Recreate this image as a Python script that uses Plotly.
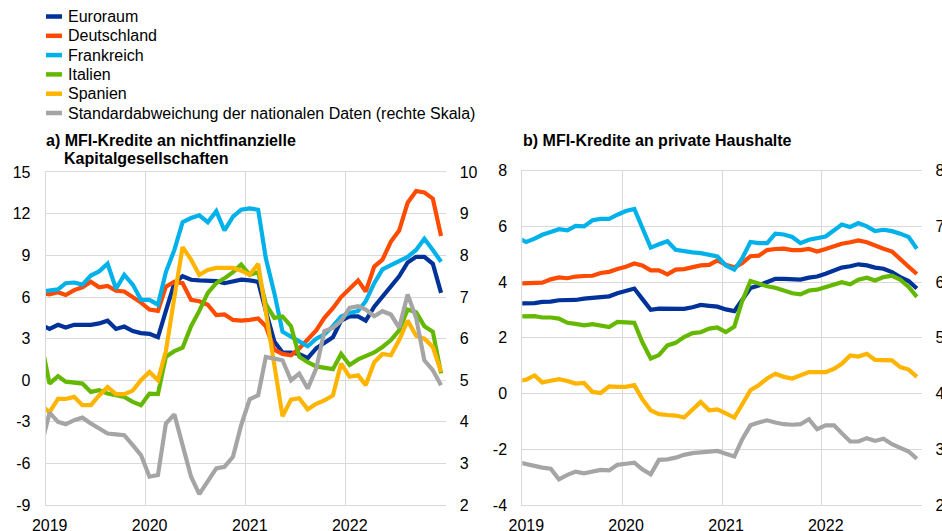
import pandas as pd
import plotly.graph_objects as go

W, H = 942, 531

# Monthly observations (mid-month), Dec 2018 - Dec 2022; axis starts Jan 2019
months = [d + pd.Timedelta(days=14) for d in pd.date_range("2018-12-01", "2022-12-01", freq="MS")]

names = ["Euroraum", "Deutschland", "Frankreich", "Italien", "Spanien",
         "Standardabweichung der nationalen Daten (rechte Skala)"]
colors = ["#003299", "#ff4b00", "#00b1ea", "#65b800", "#ffb400", "#a5a5a5"]

# a) MFI loans to non-financial corporations (annual % change)
nfc_euroraum = [4.0, 3.7, 4.0, 3.8, 4.0, 4.0, 4.0, 4.1, 4.3, 3.7, 3.87, 3.55, 3.4,
                3.35, 3.1, 5.0, 7.0, 7.5, 7.25, 7.2, 7.2, 7.15, 7.0, 7.1, 7.25,
                7.2, 7.1, 5.0, 2.8, 2.0, 2.0, 1.9, 1.6, 2.3, 2.7, 3.1, 4.3,
                4.6, 4.6, 4.3, 5.3, 6.0, 6.7, 7.5, 8.5, 8.9, 8.9, 8.4, 6.3]
nfc_deutschland = [6.3, 6.2, 6.35, 6.15, 6.5, 6.7, 7.1, 6.7, 6.8, 6.45, 6.4, 6.0, 5.6,
                   5.1, 5.0, 6.75, 7.1, 7.0, 5.8, 5.7, 5.45, 4.7, 4.75, 4.35, 4.3,
                   4.35, 4.45, 3.9, 2.2, 1.9, 1.8, 2.3, 2.9, 3.6, 4.5, 5.2, 6.0,
                   6.6, 7.2, 6.4, 8.2, 8.7, 10.0, 10.8, 12.8, 13.65, 13.55, 13.1, 10.4]
nfc_frankreich = [6.4, 6.5, 6.55, 7.0, 7.05, 6.9, 7.55, 7.85, 8.4, 6.6, 7.6, 6.9, 5.8,
                  5.8, 5.45, 7.8, 9.4, 11.4, 11.7, 11.9, 11.4, 12.2, 10.8, 11.8, 12.3,
                  12.4, 12.3, 8.8, 6.3, 3.5, 3.1, 2.8, 2.45, 3.0, 3.3, 3.9, 4.6,
                  4.85, 5.0, 5.7, 7.0, 8.0, 8.3, 8.6, 8.9, 9.4, 10.2, 9.4, 8.55]
nfc_italien = [2.8, -0.24, 0.3, -0.1, -0.17, -0.24, -0.84, -0.72, -0.96, -1.08, -1.2, -1.56, -1.8,
               -0.96, -1.0, 1.7, 2.1, 2.35, 3.9, 5.0, 6.3, 7.0, 7.35, 7.8, 8.35,
               7.6, 7.8, 5.5, 4.5, 4.6, 3.9, 1.7, 1.3, 1.0, 0.9, 0.8, 1.9,
               1.1, 1.5, 1.75, 2.0, 2.4, 2.9, 3.6, 5.1, 4.9, 3.9, 3.5, 0.5]
nfc_spanien = [-1.8, -2.3, -1.35, -1.35, -1.2, -1.8, -1.8, -1.1, -0.5, -1.0, -1.0, -0.75, 0.0,
               0.6, 0.0, 2.1, 6.0, 9.6, 8.7, 7.6, 7.95, 8.1, 8.1, 8.1, 7.9,
               7.6, 8.4, 5.0, 1.5, -2.6, -1.4, -1.3, -2.1, -1.7, -1.45, -1.1, 1.2,
               0.25, 0.35, -0.35, 1.3, 1.9, 1.8, 2.9, 4.3, 3.2, 3.0, 2.4, 0.6]
nfc_stdabw = [3.4, 4.22, 4.0, 3.94, 4.04, 4.1, 3.96, 3.84, 3.72, 3.7, 3.68, 3.44, 3.2,
              2.68, 2.72, 3.96, 4.18, 3.44, 2.68, 2.26, 2.56, 2.88, 2.92, 3.16, 3.92,
              4.54, 4.64, 5.56, 5.52, 5.48, 5.0, 5.16, 4.8, 5.28, 6.18, 6.26, 6.42,
              6.74, 6.78, 6.7, 6.54, 6.66, 6.58, 6.26, 7.06, 6.5, 5.48, 5.24, 4.88]

# b) MFI loans to households (annual % change)
hh_euroraum = [3.23, 3.23, 3.25, 3.29, 3.3, 3.35, 3.36, 3.36, 3.41, 3.43, 3.47, 3.49, 3.6,
               3.68, 3.77, 3.4, 3.01, 3.05, 3.05, 3.05, 3.04, 3.1, 3.18, 3.15, 3.12,
               3.02, 2.96, 3.35, 3.79, 3.88, 4.0, 4.12, 4.12, 4.12, 4.09, 4.16, 4.2,
               4.3, 4.42, 4.52, 4.57, 4.64, 4.6, 4.52, 4.48, 4.36, 4.18, 4.04, 3.77]
hh_deutschland = [3.95, 3.95, 3.96, 3.98, 4.1, 4.17, 4.14, 4.2, 4.22, 4.23, 4.33, 4.37, 4.47,
                  4.55, 4.67, 4.6, 4.42, 4.42, 4.28, 4.45, 4.47, 4.55, 4.6, 4.62, 4.78,
                  4.62, 4.53, 4.68, 4.93, 4.95, 5.15, 5.19, 5.2, 5.15, 5.15, 5.19, 5.1,
                  5.19, 5.3, 5.38, 5.43, 5.5, 5.43, 5.3, 5.2, 5.1, 4.85, 4.55, 4.29]
hh_frankreich = [5.6, 5.44, 5.56, 5.7, 5.8, 5.9, 5.86, 6.02, 6.0, 6.22, 6.27, 6.27, 6.42,
                 6.55, 6.63, 5.92, 5.24, 5.36, 5.47, 5.16, 5.1, 5.07, 5.04, 4.96, 4.92,
                 4.6, 4.45, 4.84, 5.44, 5.4, 5.4, 5.74, 5.71, 5.62, 5.4, 5.52, 5.58,
                 5.64, 5.86, 6.07, 5.98, 6.12, 6.0, 5.83, 5.88, 5.83, 5.74, 5.62, 5.2]
hh_italien = [2.77, 2.77, 2.78, 2.73, 2.73, 2.69, 2.54, 2.5, 2.45, 2.49, 2.45, 2.39, 2.57,
              2.56, 2.54, 1.85, 1.26, 1.38, 1.73, 1.82, 2.03, 2.17, 2.2, 2.33, 2.37,
              2.21, 2.4, 3.3, 4.04, 3.95, 3.85, 3.8, 3.68, 3.6, 3.56, 3.7, 3.73,
              3.83, 3.92, 4.0, 3.92, 4.09, 4.16, 4.06, 4.18, 4.23, 4.09, 3.83, 3.47]
hh_spanien = [0.45, 0.5, 0.65, 0.4, 0.46, 0.52, 0.45, 0.36, 0.38, 0.06, 0.02, 0.26, 0.24,
              0.24, 0.3, -0.2, -0.6, -0.74, -0.77, -0.79, -0.86, -0.6, -0.3, -0.6, -0.57,
              -0.71, -0.86, -0.4, 0.12, 0.3, 0.54, 0.71, 0.6, 0.54, 0.65, 0.77, 0.77,
              0.77, 0.89, 1.07, 1.37, 1.33, 1.43, 1.21, 1.2, 1.19, 0.95, 0.86, 0.6]
hh_stdabw = [2.77, 2.73, 2.7, 2.67, 2.65, 2.46, 2.54, 2.6, 2.57, 2.6, 2.63, 2.62, 2.72,
             2.74, 2.76, 2.64, 2.55, 2.81, 2.82, 2.85, 2.9, 2.93, 2.94, 2.95, 2.97,
             2.92, 2.87, 3.17, 3.43, 3.48, 3.52, 3.48, 3.45, 3.44, 3.45, 3.54, 3.36,
             3.43, 3.43, 3.29, 3.14, 3.14, 3.2, 3.15, 3.19, 3.09, 3.02, 2.96, 2.83]

year_ticks = ["2019-01-01", "2020-01-01", "2021-01-01", "2022-01-01"]
year_labels = ["2019", "2020", "2021", "2022"]
left_a_ticks = [-9, -6, -3, 0, 3, 6, 9, 12, 15]
right_a_ticks = [2, 3, 4, 5, 6, 7, 8, 9, 10]
left_b_ticks = [-4, -2, 0, 2, 4, 6, 8]
right_b_ticks = [2, 3, 4, 5, 6, 7, 8]

title_a_lines = ["a) MFI-Kredite an nichtfinanzielle", "Kapitalgesellschaften"]
title_b = "b) MFI-Kredite an private Haushalte"

FONT = "Liberation Sans, Arial, sans-serif"
FS = 16
GRID = "#d9d9d9"
LW = 4.2

fig = go.Figure()

panel_a = [nfc_euroraum, nfc_deutschland, nfc_frankreich, nfc_italien, nfc_spanien]
panel_b = [hh_euroraum, hh_deutschland, hh_frankreich, hh_italien, hh_spanien]

for name, col, ys in zip(names[:5], colors[:5], panel_a):
    fig.add_trace(go.Scatter(x=months, y=ys, name=name, mode="lines",
                             line=dict(color=col, width=LW), xaxis="x", yaxis="y",
                             showlegend=False))
fig.add_trace(go.Scatter(x=months, y=nfc_stdabw, name=names[5], mode="lines",
                         line=dict(color=colors[5], width=LW), xaxis="x", yaxis="y2",
                         showlegend=False))
for name, col, ys in zip(names[:5], colors[:5], panel_b):
    fig.add_trace(go.Scatter(x=months, y=ys, name=name, mode="lines",
                             line=dict(color=col, width=LW), xaxis="x2", yaxis="y3",
                             showlegend=False))
fig.add_trace(go.Scatter(x=months, y=hh_stdabw, name=names[5], mode="lines",
                         line=dict(color=colors[5], width=LW), xaxis="x2", yaxis="y4",
                         showlegend=False))


def px_x(x):
    return x / W


def px_y(y):
    return 1 - y / H


xcommon = dict(type="date", range=["2019-01-01", "2023-01-01"], tickvals=year_ticks,
               ticktext=year_labels, showgrid=True, gridcolor=GRID, gridwidth=1,
               showline=True, linecolor=GRID, linewidth=1, mirror=True, ticks="",
               tickfont=dict(size=FS, color="#000000", family=FONT),
               ticklabelshift=4, ticklabelstandoff=6, automargin=False, fixedrange=True)

ycommon = dict(showgrid=True, gridcolor=GRID, gridwidth=1, zeroline=False, showline=True,
               linecolor=GRID, linewidth=1, ticks="",
               tickfont=dict(size=FS, color="#000000", family=FONT),
               ticklabelstandoff=11, automargin=False, fixedrange=True)
yright = {**ycommon, "showgrid": False, "showline": False, "ticklabelstandoff": 13}

dom_a = [px_x(45.7), px_x(445.7)]
dom_b = [px_x(522.3), px_x(921.5)]
ydom_a = [px_y(505), px_y(172.3)]
ydom_b = [px_y(505), px_y(170.7)]

fig.update_layout(
    width=W, height=H,
    margin=dict(l=0, r=0, t=0, b=0),
    paper_bgcolor="white", plot_bgcolor="white",
    font=dict(family=FONT, size=FS, color="#000000"),
    showlegend=False,
    xaxis=dict(domain=dom_a, anchor="y", **xcommon),
    xaxis2=dict(domain=dom_b, anchor="y3", **xcommon),
    yaxis=dict(domain=ydom_a, anchor="x", range=[-9, 15], tickvals=left_a_ticks,
               ticktext=[str(v) for v in left_a_ticks], **ycommon),
    yaxis2=dict(overlaying="y", side="right", anchor="x", range=[2, 10],
                tickvals=right_a_ticks, ticktext=[str(v) for v in right_a_ticks], **yright),
    yaxis3=dict(domain=ydom_b, anchor="x2", range=[-4, 8], tickvals=left_b_ticks,
                ticktext=[str(v) for v in left_b_ticks], **ycommon),
    yaxis4=dict(overlaying="y3", side="right", anchor="x2", range=[2, 8],
                tickvals=right_b_ticks, ticktext=[str(v) for v in right_b_ticks], **yright),
)

# Legend (drawn as swatches + labels above the panels)
shapes = []
annotations = []
for k, (name, col) in enumerate(zip(names, colors)):
    yc = 16.5 + k * 19.3
    shapes.append(dict(type="line", xref="paper", yref="paper",
                       x0=px_x(46), x1=px_x(62), y0=px_y(yc), y1=px_y(yc),
                       line=dict(color=col, width=4.5)))
    annotations.append(dict(text=name, xref="paper", yref="paper", x=px_x(66), y=px_y(yc),
                            xanchor="left", yanchor="middle", showarrow=False,
                            font=dict(size=FS, color="#000000", family=FONT)))

title_font = dict(size=FS, color="#000000", family=FONT)
annotations.append(dict(text="<b>" + title_a_lines[0] + "</b>", xref="paper", yref="paper",
                        x=px_x(44), y=px_y(140), xanchor="left", yanchor="middle",
                        showarrow=False, font=title_font))
annotations.append(dict(text="<b>" + title_a_lines[1] + "</b>", xref="paper", yref="paper",
                        x=px_x(62), y=px_y(158), xanchor="left", yanchor="middle",
                        showarrow=False, font=title_font))
annotations.append(dict(text="<b>" + title_b + "</b>", xref="paper", yref="paper",
                        x=px_x(520.5), y=px_y(140.5), xanchor="left", yanchor="middle",
                        showarrow=False, font=title_font))

fig.update_layout(shapes=shapes, annotations=annotations)

fig.write_html("out.html", config={"displayModeBar": False},
               post_script="document.body.style.margin='0';document.body.style.overflow='hidden';")
